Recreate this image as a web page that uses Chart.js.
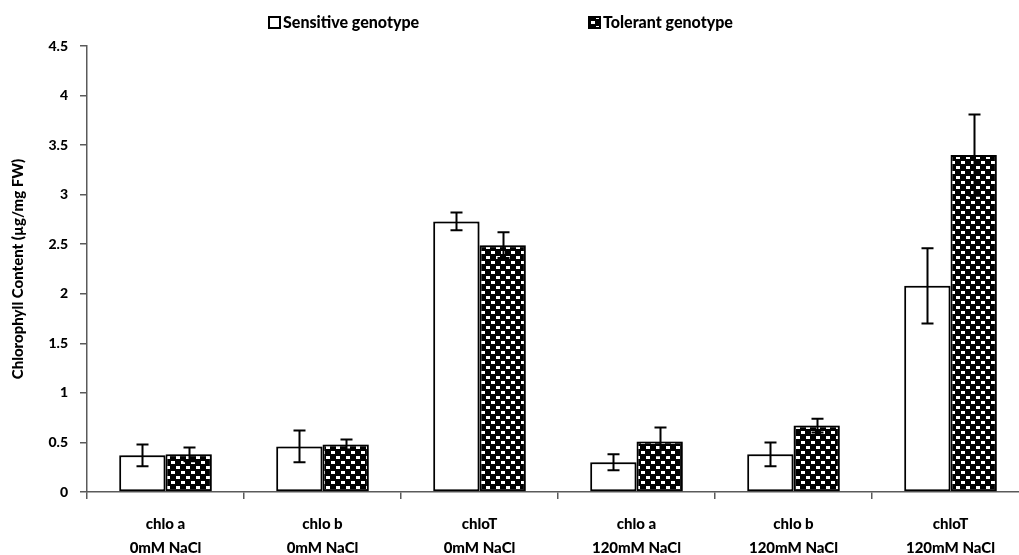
<!DOCTYPE html>
<html>
<head>
<meta charset="utf-8">
<script src="https://cdn.jsdelivr.net/npm/chart.js@4/dist/chart.umd.min.js"></script>
<style>
  html, body { margin: 0; padding: 0; background: #fff; overflow: hidden; }
  #wrap { position: relative; width: 1040px; height: 555px; }
</style>
</head>
<body>
<div id="wrap"><canvas id="chart"></canvas></div>
<script>
// Chlorophyll content per pigment and salt treatment
const categories = [
  ['chlo a', '0mM NaCl'],
  ['chlo b', '0mM NaCl'],
  ['chloT', '0mM NaCl'],
  ['chlo a', '120mM NaCl'],
  ['chlo b', '120mM NaCl'],
  ['chloT', '120mM NaCl']
];
const seriesNames = ['Sensitive genotype', 'Tolerant genotype'];
const sensitive    = [0.37, 0.46, 2.73, 0.30, 0.38, 2.08];
const sensitiveErr = [0.11, 0.16, 0.09, 0.08, 0.12, 0.38];
const tolerant     = [0.38, 0.48, 2.49, 0.51, 0.67, 3.40];
const tolerantErr  = [0.07, 0.05, 0.13, 0.14, 0.07, 0.41];
const yTicks = ['0', '0.5', '1', '1.5', '2', '2.5', '3', '3.5', '4', '4.5'];

const FONT = 'Lato, "Open Sans", Arial, sans-serif';
const AXIS_COLOR = '#5a5a5a';

// Black checker fill with small white cells
function makeChecker() {
  const c = document.createElement('canvas');
  c.width = 10; c.height = 10;
  const g = c.getContext('2d');
  g.fillStyle = '#000';
  g.fillRect(0, 0, 10, 10);
  g.fillStyle = '#fff';
  g.fillRect(1, 1, 4, 3);
  g.fillRect(6, 6, 4, 3);
  return g.createPattern(c, 'repeat');
}
const checker = makeChecker();

const errors = [sensitiveErr, tolerantErr];

// Soft drop shadow behind the bars, then error bars on top
const barDecor = {
  id: 'barDecor',
  beforeDatasetsDraw(chart) {
    const ctx = chart.ctx;
    ctx.save();
    ctx.shadowColor = 'rgba(0,0,0,0.35)';
    ctx.shadowOffsetX = 3;
    ctx.shadowOffsetY = 0;
    ctx.shadowBlur = 3;
  },
  afterDatasetsDraw(chart) {
    const ctx = chart.ctx;
    ctx.restore();
    const y = chart.scales.y;
    ctx.save();
    ctx.strokeStyle = '#000';
    ctx.lineWidth = 2;
    chart.data.datasets.forEach((ds, di) => {
      const meta = chart.getDatasetMeta(di);
      meta.data.forEach((bar, i) => {
        const v = ds.data[i], e = errors[di][i];
        const x = Math.round(bar.x) + 0.5;
        const top = y.getPixelForValue(v + e);
        const bot = y.getPixelForValue(v - e);
        ctx.beginPath();
        ctx.moveTo(x, top); ctx.lineTo(x, bot);
        ctx.moveTo(x - 6, top); ctx.lineTo(x + 6, top);
        ctx.moveTo(x - 6, bot); ctx.lineTo(x + 6, bot);
        ctx.stroke();
      });
    });
    ctx.restore();
  }
};

// Legend row across the top
const topLegend = {
  id: 'topLegend',
  afterDraw(chart, args, opts) {
    const ctx = chart.ctx;
    ctx.save();
    ctx.font = '900 16px ' + FONT;
    ctx.textBaseline = 'middle';
    ctx.textAlign = 'left';
    chart.data.datasets.forEach((ds, i) => {
      const x = opts.x[i], y = opts.y;
      ctx.fillStyle = ds.backgroundColor;
      ctx.fillRect(x, y - 6, 11, 11);
      ctx.strokeStyle = '#000';
      ctx.lineWidth = 2;
      ctx.strokeRect(x, y - 6, 11, 11);
      ctx.fillStyle = '#000';
      ctx.fillText(ds.label, x + 14, y);
    });
    ctx.restore();
  }
};

new Chart(document.getElementById('chart'), {
  type: 'bar',
  data: {
    labels: categories,
    datasets: [
      { label: seriesNames[0], data: sensitive, backgroundColor: '#ffffff',
        borderColor: '#000', borderWidth: 2, borderSkipped: false },
      { label: seriesNames[1], data: tolerant, backgroundColor: checker,
        borderColor: '#000', borderWidth: 2, borderSkipped: false }
    ]
  },
  options: {
    responsive: true,
    maintainAspectRatio: false,
    animation: false,
    datasets: { bar: { categoryPercentage: 0.59, barPercentage: 1.0 } },
    layout: { padding: { top: 46, right: 11, bottom: 0, left: 0 } },
    plugins: {
      legend: { display: false },
      tooltip: { enabled: false },
      topLegend: { x: [269, 589], y: 23 }
    },
    scales: {
      x: {
        grid: { display: true, drawOnChartArea: false, offset: true,
                color: AXIS_COLOR, tickLength: 7, lineWidth: 1.5 },
        border: { display: true, color: AXIS_COLOR, width: 1.5 },
        ticks: { color: '#000', padding: 13, maxRotation: 0, autoSkip: false,
                 font: { family: FONT, size: 15, weight: '900', lineHeight: '24px' } },
        afterFit(scale) { scale.height = 63; }
      },
      y: {
        min: 0, max: 4.5,
        grid: { display: true, drawOnChartArea: false,
                color: AXIS_COLOR, tickLength: 7, lineWidth: 1.5 },
        border: { display: true, color: AXIS_COLOR, width: 1.5 },
        ticks: {
          stepSize: 0.5, color: '#000', padding: 12,
          font: { family: FONT, size: 14, weight: '900' },
          callback: (v, i) => yTicks[i]
        },
        title: {
          display: true, text: 'Chlorophyll Content (µg/mg FW)', color: '#000',
          font: { family: FONT, size: 15, weight: '900' },
          padding: { top: 9, bottom: 0 }
        },
        afterFit(scale) { scale.width = 87; }
      }
    }
  },
  plugins: [barDecor, topLegend]
});
</script>
</body>
</html>
